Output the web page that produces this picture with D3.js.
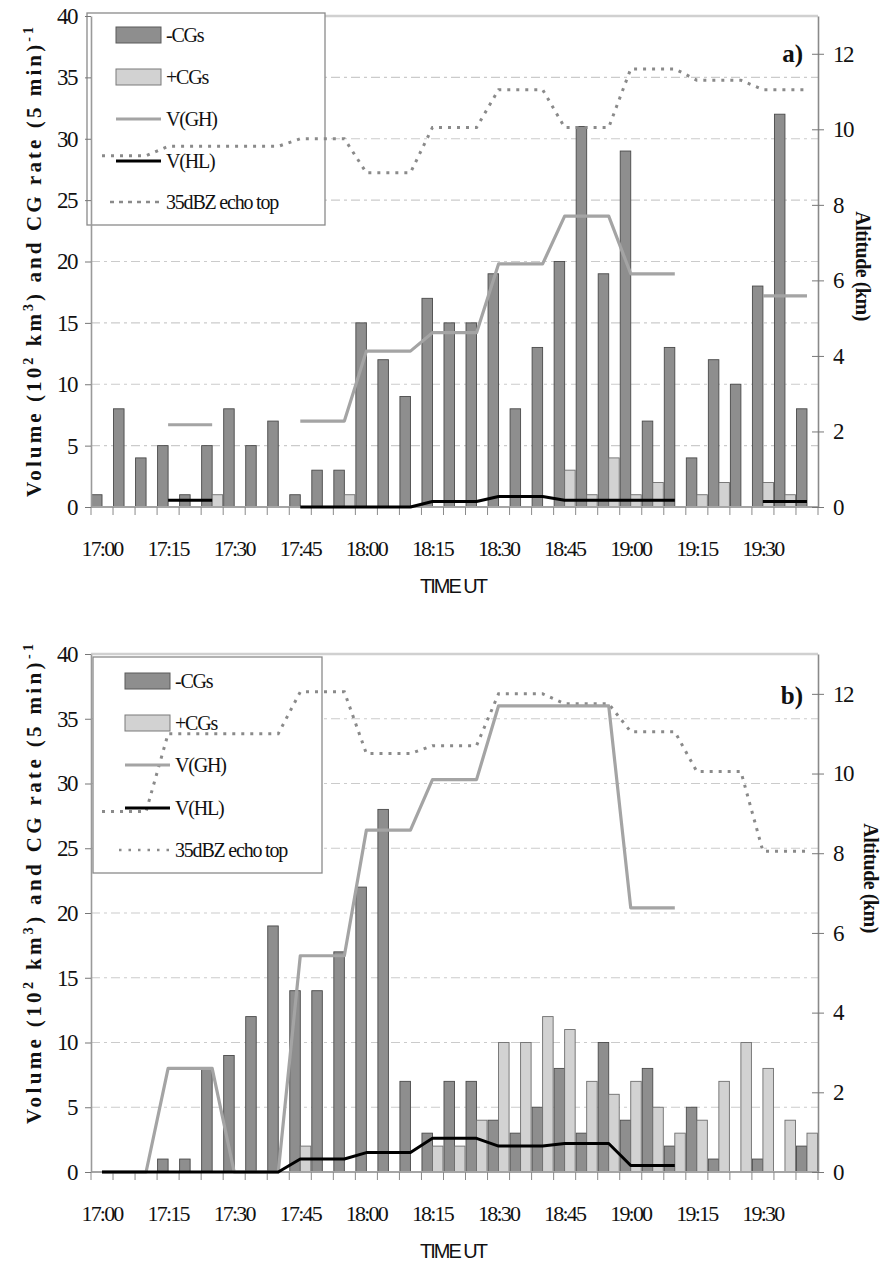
<!DOCTYPE html>
<html><head><meta charset="utf-8">
<script src="https://cdn.jsdelivr.net/npm/d3@7"></script>
<style>body{margin:0;background:#fff}svg{display:block}</style>
</head><body><svg id="c" width="883" height="1271"></svg>
<script>
// ---------- data ----------
const times = ["17:00","17:05","17:10","17:15","17:20","17:25","17:30","17:35","17:40","17:45","17:50","17:55",
               "18:00","18:05","18:10","18:15","18:20","18:25","18:30","18:35","18:40","18:45","18:50","18:55",
               "19:00","19:05","19:10","19:15","19:20","19:25","19:30","19:35","19:40"];
const tickLabels = ["17:00","17:15","17:30","17:45","18:00","18:15","18:30","18:45","19:00","19:15","19:30"];
const leftTicks = [0,5,10,15,20,25,30,35,40];
const rightTicks = [0,2,4,6,8,10,12];
const legendLabels = ["-CGs","+CGs","V(GH)","V(HL)","35dBZ echo top"];

// panel a
const negCG_a = [1,8,4,5,1,5,8,5,7,1,3,3,15,12,9,17,15,15,19,8,13,20,31,19,29,7,13,4,12,10,18,32,8];
const posCG_a = [0,0,0,0,0,1,0,0,0,0,0,1,0,0,0,0,0,0,0,0,0,3,1,4,1,2,0,1,2,0,2,1,0];
const vgh_a = [null,null,null,6.7,6.7,6.7,null,null,null,7,7,7,12.7,12.7,12.7,14.2,14.2,14.2,19.8,19.8,19.8,23.7,23.7,23.7,19,19,19,null,null,null,17.2,17.2,17.2];
const vhl_a = [null,null,null,0.55,0.55,0.55,null,null,null,0,0,0,0,0,0,0.45,0.45,0.45,0.85,0.85,0.85,0.55,0.55,0.55,0.55,0.55,0.55,null,null,null,0.45,0.45,0.45];
const echo_a = [9.3,9.3,9.3,9.55,9.55,9.55,9.55,9.55,9.55,9.75,9.75,9.75,8.85,8.85,8.85,10.05,10.05,10.05,11.05,11.05,11.05,10.05,10.05,10.05,11.6,11.6,11.6,11.3,11.3,11.3,11.05,11.05,11.05];

// panel b
const negCG_b = [0,0,0,1,1,8,9,12,19,14,14,17,22,28,7,3,7,7,4,3,5,8,3,10,4,8,2,5,1,0,1,0,2];
const posCG_b = [0,0,0,0,0,0,0,0,0,2,0,0,0,0,0,2,2,4,10,10,12,11,7,6,7,5,3,4,7,10,8,4,3];
const vgh_b = [0,0,0,8,8,8,0,0,0,16.7,16.7,16.7,26.4,26.4,26.4,30.3,30.3,30.3,36,36,36,36,36,36,20.4,20.4,20.4,null,null,null,null,null,null];
const vhl_b = [0,0,0,0,0,0,0,0,0,1,1,1,1.5,1.5,1.5,2.6,2.6,2.6,2,2,2,2.2,2.2,2.2,0.5,0.5,0.5,null,null,null,null,null,null];
const echo_b = [9.05,9.05,9.05,11,11,11,11,11,11,12.05,12.05,12.05,10.5,10.5,10.5,10.7,10.7,10.7,12,12,12,11.75,11.75,11.75,11.05,11.05,11.05,10.05,10.05,10.05,8.05,8.05,8.05];

// ---------- drawing ----------
const svg = d3.select("#c");
const X0 = 91, X1 = 818;
const SERIF = "'Liberation Serif','Times New Roman',serif";
const SANS = "'Liberation Sans',Arial,sans-serif";

function drawPanel(cfg) {
  const {top, bottom, neg, pos, vgh, vhl, echo, L} = cfg;
  const x = d3.scaleBand().domain(times).range([X0, X1]).padding(0);
  const yL = d3.scaleLinear().domain([0, 40]).range([bottom, top]);
  const yR = d3.scaleLinear().domain([0, 13]).range([bottom, top]);
  const half = x.bandwidth() / 2;
  const g = svg.append("g");

  // gridlines
  g.append("g").selectAll("line").data(leftTicks.filter(v => v > 0 && v < 40)).join("line")
    .attr("x1", X0).attr("x2", X1).attr("y1", d => yL(d)).attr("y2", d => yL(d))
    .attr("stroke", "#cbcbcb").attr("stroke-width", 1.2).attr("stroke-dasharray", "9,4,3,4");
  // top frame
  g.append("line").attr("x1", X0).attr("x2", X1).attr("y1", yL(40)).attr("y2", yL(40))
    .attr("stroke", "#d0d0d0").attr("stroke-width", 2.5);

  // legend box
  g.append("rect").attr("x", L.x).attr("y", L.y).attr("width", L.w).attr("height", L.h)
    .attr("fill", "#fff").attr("stroke", "#8a8a8a").attr("stroke-width", 1.3);

  // bars
  const negData = neg.map((v, i) => ({t: times[i], v})).filter(d => d.v > 0);
  const posData = pos.map((v, i) => ({t: times[i], v})).filter(d => d.v > 0);
  g.append("g").selectAll("rect").data(negData).join("rect")
    .attr("x", d => x(d.t) + 0.5).attr("width", half - 0.5)
    .attr("y", d => yL(d.v)).attr("height", d => yL(0) - yL(d.v))
    .attr("fill", "#8e8e8e").attr("stroke", "#4a4a4a").attr("stroke-width", 0.9);
  g.append("g").selectAll("rect").data(posData).join("rect")
    .attr("x", d => x(d.t) + half).attr("width", half - 0.5)
    .attr("y", d => yL(d.v)).attr("height", d => yL(0) - yL(d.v))
    .attr("fill", "#d2d2d2").attr("stroke", "#6e6e6e").attr("stroke-width", 0.9);

  // bottom axis line and ticks
  g.append("line").attr("x1", X0).attr("x2", X1).attr("y1", yL(0)).attr("y2", yL(0))
    .attr("stroke", "#a5a5a5").attr("stroke-width", 2);
  const bounds = times.map(t => x(t)).concat([X1]);
  g.append("g").selectAll("line").data(bounds).join("line")
    .attr("x1", d => d).attr("x2", d => d).attr("y1", yL(0)).attr("y2", yL(0) + 8)
    .attr("stroke", "#8a8a8a").attr("stroke-width", 1);

  // lines
  const cx = t => x(t) + half;
  const lineL = d3.line().defined(d => d.v != null).x(d => cx(d.t)).y(d => yL(d.v));
  const lineR = d3.line().defined(d => d.v != null).x(d => cx(d.t)).y(d => yR(d.v));
  g.append("path").datum(echo.map((v, i) => ({t: times[i], v}))).attr("d", lineR)
    .attr("fill", "none").attr("stroke", "#8a8a8a").attr("stroke-width", 3).attr("stroke-dasharray", "3,6");
  g.append("path").datum(vgh.map((v, i) => ({t: times[i], v}))).attr("d", lineL)
    .attr("fill", "none").attr("stroke", "#a4a4a4").attr("stroke-width", 3.2).attr("stroke-linejoin", "round");
  g.append("path").datum(vhl.map((v, i) => ({t: times[i], v}))).attr("d", lineL)
    .attr("fill", "none").attr("stroke", "#000").attr("stroke-width", 3).attr("stroke-linejoin", "round");

  // left axis
  const ax = g.append("g").attr("transform", `translate(${X0},0)`)
    .call(d3.axisLeft(yL).tickValues(leftTicks).tickSizeInner(6).tickSizeOuter(0).tickPadding(8));
  ax.select(".domain").attr("stroke", "#9a9a9a").attr("stroke-width", 1.6);
  ax.selectAll(".tick line").attr("stroke", "#777");
  ax.selectAll(".tick text").attr("font-family", SERIF).attr("font-size", 23)
    .attr("letter-spacing", "-1.5px").attr("fill", "#111");

  // right axis
  const ar = g.append("g").attr("transform", `translate(${X1},0)`)
    .call(d3.axisRight(yR).tickValues(rightTicks).tickSizeInner(6).tickSizeOuter(0).tickPadding(9));
  ar.select(".domain").attr("stroke", "#8a8a8a").attr("stroke-width", 1.6);
  ar.selectAll(".tick line").attr("x1", -6).attr("stroke", "#777");
  ar.selectAll(".tick text").attr("font-family", SERIF).attr("font-size", 23)
    .attr("letter-spacing", "-1.5px").attr("fill", "#111");

  // x labels
  const axb = g.append("g").attr("transform", `translate(0,${yL(0)})`)
    .call(d3.axisBottom(x).tickValues(tickLabels).tickSize(0).tickPadding(33));
  axb.select(".domain").remove();
  axb.selectAll(".tick text").attr("font-family", SERIF).attr("font-size", 22)
    .attr("letter-spacing", "-1.8px").attr("fill", "#111");

  // x title
  g.append("text").attr("x", 453).attr("y", yL(0) + 86).attr("text-anchor", "middle")
    .attr("font-family", SANS).attr("font-size", 20).attr("letter-spacing", "-2px")
    .attr("fill", "#111").text("TIME UT");

  // panel letter
  g.append("text").attr("x", 803).attr("y", cfg.letterY).attr("text-anchor", "end")
    .attr("font-family", SERIF).attr("font-weight", "bold").attr("font-size", 25)
    .attr("fill", "#111").text(cfg.letter + ")");

  // left title
  const lt = g.append("text")
    .attr("transform", `translate(41,${cfg.ltCenter}) rotate(-90)`)
    .attr("text-anchor", "middle").attr("font-family", SERIF).attr("font-weight", "bold")
    .attr("font-size", 21).attr("fill", "#111")
    .attr("textLength", cfg.ltLength).attr("lengthAdjust", "spacing");
  lt.append("tspan").text("Volume (10");
  lt.append("tspan").attr("dy", -8).attr("font-size", 14).text("2");
  lt.append("tspan").attr("dy", 8).text(" km");
  lt.append("tspan").attr("dy", -8).attr("font-size", 14).text("3");
  lt.append("tspan").attr("dy", 8).text(") and CG rate (5 min)");
  lt.append("tspan").attr("dy", -8).attr("font-size", 14).text("-1");

  // right title
  g.append("text").attr("transform", `translate(${cfg.rtX},${cfg.rtCenter}) rotate(90)`)
    .attr("text-anchor", "middle").attr("font-family", SERIF).attr("font-weight", "bold")
    .attr("font-size", 20).attr("letter-spacing", "-0.5px").attr("fill", "#111").text("Altitude (km)");

  // legend items
  const li = g.append("g");
  const sw0 = L.sx, sw1 = L.sx + 45;
  li.append("rect").attr("x", sw0).attr("y", L.iy[0] - 8).attr("width", 45).attr("height", 16)
    .attr("fill", "#8e8e8e").attr("stroke", "#5a5a5a");
  li.append("rect").attr("x", sw0).attr("y", L.iy[1] - 8).attr("width", 45).attr("height", 16)
    .attr("fill", "#d2d2d2").attr("stroke", "#7a7a7a");
  li.append("line").attr("x1", sw0).attr("x2", sw1).attr("y1", L.iy[2]).attr("y2", L.iy[2])
    .attr("stroke", "#a4a4a4").attr("stroke-width", 3);
  li.append("line").attr("x1", sw0).attr("x2", sw1).attr("y1", L.iy[3]).attr("y2", L.iy[3])
    .attr("stroke", "#000").attr("stroke-width", 3);
  li.append("line").attr("x1", sw0 - 6).attr("x2", sw1).attr("y1", L.iy[4]).attr("y2", L.iy[4])
    .attr("stroke", "#8a8a8a").attr("stroke-width", 2.5).attr("stroke-dasharray", L.echoDash);
  li.selectAll("text").data(legendLabels).join("text")
    .attr("x", sw1 + 5).attr("y", (d, i) => L.iy[i]).attr("dy", "0.35em")
    .attr("font-family", SERIF).attr("font-size", 20).attr("letter-spacing", "-1.2px")
    .attr("fill", "#111").text(d => d);
}

drawPanel({
  top: 16, bottom: 507, neg: negCG_a, pos: posCG_a, vgh: vgh_a, vhl: vhl_a, echo: echo_a,
  letter: "a", letterY: 62, ltCenter: 262, ltLength: 470, rtX: 856, rtCenter: 266,
  L: {x: 87, y: 13, w: 238, h: 212, sx: 116, iy: [35, 77, 119, 161, 202], echoDash: "4,5"}
});
drawPanel({
  top: 654, bottom: 1172, neg: negCG_b, pos: posCG_b, vgh: vgh_b, vhl: vhl_b, echo: echo_b,
  letter: "b", letterY: 704, ltCenter: 884, ltLength: 480, rtX: 864, rtCenter: 878,
  L: {x: 93, y: 657, w: 229, h: 216, sx: 125, iy: [681, 723, 765, 808, 850], echoDash: "2.5,7"}
});
</script></body></html>
